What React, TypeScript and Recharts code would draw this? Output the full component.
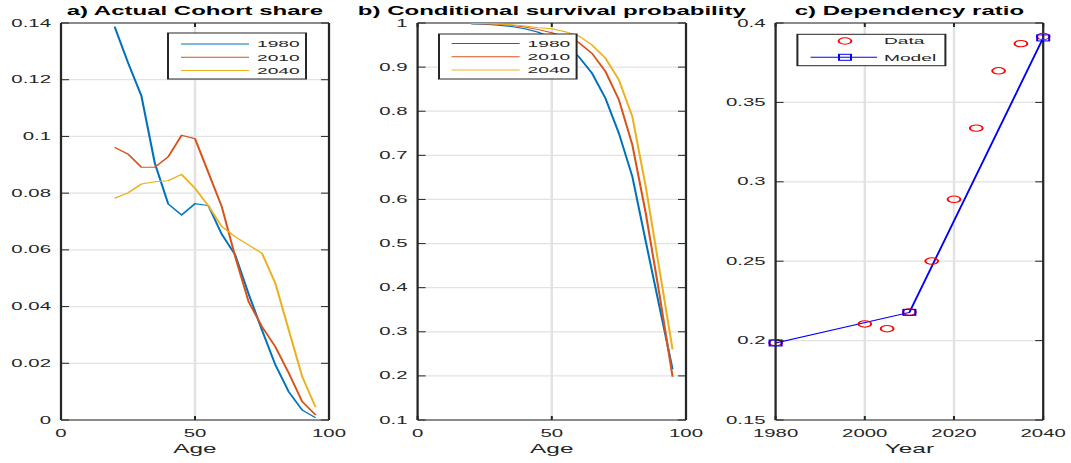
import React from 'react';
import { LineChart, Line, XAxis, YAxis, CartesianGrid, ReferenceLine } from 'recharts';

// ---- data ----
const AGES = [20, 25, 30, 35, 40, 45, 50, 55, 60, 65, 70, 75, 80, 85, 90, 95];

const SHARE_1980 = [0.1387, 0.126, 0.1143, 0.0906, 0.0762, 0.0723, 0.0763, 0.0756, 0.0655, 0.0582, 0.0445, 0.0317, 0.0194, 0.0099, 0.0035, 0.0008];
const SHARE_2010 = [0.0961, 0.0938, 0.0891, 0.0891, 0.0928, 0.1004, 0.0992, 0.0872, 0.0752, 0.0576, 0.0417, 0.0329, 0.0258, 0.0165, 0.0065, 0.0018];
const SHARE_2040 = [0.0782, 0.0801, 0.0832, 0.084, 0.0844, 0.0866, 0.0817, 0.0755, 0.0682, 0.0646, 0.0617, 0.0588, 0.0482, 0.0317, 0.0153, 0.0045];

const SURV_1980 = [0.998, 0.997, 0.995, 0.992, 0.987, 0.979, 0.967, 0.949, 0.924, 0.886, 0.829, 0.75, 0.652, 0.505, 0.36, 0.215];
const SURV_2010 = [0.999, 0.998, 0.997, 0.995, 0.991, 0.985, 0.978, 0.969, 0.956, 0.931, 0.89, 0.826, 0.724, 0.569, 0.389, 0.198];
const SURV_2040 = [0.999, 0.999, 0.998, 0.996, 0.993, 0.989, 0.987, 0.98, 0.971, 0.95, 0.92, 0.871, 0.788, 0.629, 0.445, 0.26];

const YEARS_DATA = [1980, 2000, 2005, 2010, 2015, 2020, 2025, 2030, 2035, 2040];
const RATIO_DATA = [0.1987, 0.2105, 0.2075, 0.218, 0.2501, 0.289, 0.3338, 0.3699, 0.387, 0.3915];
const YEARS_MODEL = [1980, 2010, 2040];
const RATIO_MODEL = [0.1985, 0.2178, 0.3906];

const SERIES = ['1980', '2010', '2040'];

const TICKS_AGE = [0, 50, 100];
const TICKS_SHARE = [0, 0.02, 0.04, 0.06, 0.08, 0.1, 0.12, 0.14];
const TICKS_SURV = [0.1, 0.2, 0.3, 0.4, 0.5, 0.6, 0.7, 0.8, 0.9, 1];
const TICKS_YEAR = [1980, 2000, 2020, 2040];
const TICKS_RATIO = [0.15, 0.2, 0.25, 0.3, 0.35, 0.4];

const shareRows = AGES.map((age, i) => ({ age, y1980: SHARE_1980[i], y2010: SHARE_2010[i], y2040: SHARE_2040[i] }));
const survRows = AGES.map((age, i) => ({ age, y1980: SURV_1980[i], y2010: SURV_2010[i], y2040: SURV_2040[i] }));
const dataRows = YEARS_DATA.map((year, i) => ({ year, ratio: RATIO_DATA[i] }));
const modelRows = YEARS_MODEL.map((year, i) => ({ year, ratio: RATIO_MODEL[i] }));

// ---- look ----
// the reference is stretched ~2x horizontally, so draw at half width and scale
const STRETCH = 2;
const W = 1071 / STRETCH;
const H = 463;
const PLOT_TOP = 23;
const PLOT_BOTTOM = 420;
const X_AXIS_H = 30;
const TICK_LEN = 4;

const AXIS = '#262626';
const GRID = '#e2e2e2';
const TEXT = '#262626';
const FONT = '"Liberation Sans", Arial, Helvetica, sans-serif';
const TICK_FS = 10.2;
const LINE_W = 1.05;

const COLORS = ['#0072BD', '#D95319', '#EDB120'];
const RED = '#ff0000';
const BLUE = '#0000ff';

const fmt = (v: number) => String(Number(v.toFixed(2)));

function XTick(props: any) {
  const { x, payload } = props;
  return (
    <g>
      <line x1={x} x2={x} y1={PLOT_BOTTOM} y2={PLOT_BOTTOM - TICK_LEN} stroke={AXIS} strokeWidth={1} />
      <line x1={x} x2={x} y1={PLOT_TOP} y2={PLOT_TOP + TICK_LEN} stroke={AXIS} strokeWidth={1} />
      <text x={x} y={PLOT_BOTTOM + 17} textAnchor="middle" fontSize={TICK_FS} fill={TEXT} fontFamily={FONT}>
        {fmt(payload.value)}
      </text>
    </g>
  );
}

function YTick(props: any) {
  const { y, payload, left, right } = props;
  return (
    <g>
      <line x1={left} x2={left + TICK_LEN} y1={y} y2={y} stroke={AXIS} strokeWidth={1} />
      <line x1={right - TICK_LEN} x2={right} y1={y} y2={y} stroke={AXIS} strokeWidth={1} />
      <text x={left - 5} y={y} dy="0.35em" textAnchor="end" fontSize={TICK_FS} fill={TEXT} fontFamily={FONT}>
        {fmt(payload.value)}
      </text>
    </g>
  );
}

interface Geom {
  left: number; // chart left in wrapper
  width: number;
  plotLeft: number; // in wrapper
  plotRight: number;
}

const GEOM_A: Geom = { left: 0, width: 175, plotLeft: 30.5, plotRight: 164.5 };
const GEOM_B: Geom = { left: 175, width: 180, plotLeft: 208.8, plotRight: 343 };
const GEOM_C: Geom = { left: 355, width: W - 355, plotLeft: 387.8, plotRight: 521.6 };

function frame(g: Geom, xKey: string, xDom: number[], xTicks: number[], yDom: number[], yTicks: number[]) {
  const l = g.plotLeft - g.left;
  const r = g.plotRight - g.left;
  return [
    <CartesianGrid key="grid" stroke={GRID} strokeWidth={1.2} />,
    <XAxis
      key="x"
      type="number"
      dataKey={xKey}
      domain={xDom}
      ticks={xTicks}
      interval={0}
      height={X_AXIS_H}
      axisLine={{ stroke: AXIS, strokeWidth: 1.1 }}
      tickLine={false}
      tick={(t: any) => <XTick {...t} />}
    />,
    <YAxis
      key="y"
      type="number"
      domain={yDom}
      ticks={yTicks}
      interval={0}
      width={l}
      axisLine={{ stroke: AXIS, strokeWidth: 1.1 }}
      tickLine={false}
      tick={(t: any) => <YTick {...t} left={l} right={r} />}
    />,
    <ReferenceLine key="top" y={yDom[1]} stroke={AXIS} strokeWidth={1.1} />,
    <ReferenceLine key="right" x={xDom[1]} stroke={AXIS} strokeWidth={1.1} />,
  ];
}

const margin = (g: Geom) => ({
  top: PLOT_TOP,
  bottom: H - PLOT_BOTTOM - X_AXIS_H,
  left: 0,
  right: g.left + g.width - g.plotRight,
});

function LegendBox(props: { x: number; y: number; w: number; h: number; children: React.ReactNode }) {
  const { x, y, w, h, children } = props;
  return (
    <g transform={`translate(${x},${y})`}>
      <rect x={0} y={0} width={w} height={h} fill="#fff" stroke={AXIS} strokeWidth={1} />
      {children}
    </g>
  );
}

function YearLegend(props: { x: number; y: number; w: number; h: number; rowY: number; lineX: number }) {
  const { x, y, w, h, rowY, lineX } = props;
  return (
    <LegendBox x={x} y={y} w={w} h={h}>
      {SERIES.map((s, i) => (
        <g key={s}>
          <line x1={lineX} x2={lineX + 34} y1={rowY + i * 13.2} y2={rowY + i * 13.2} stroke={COLORS[i]} strokeWidth={LINE_W} />
          <text x={lineX + 38} y={rowY + i * 13.2} dy="0.35em" fontSize={9.6} fill={TEXT} fontFamily={FONT}>
            {s}
          </text>
        </g>
      ))}
    </LegendBox>
  );
}

const center = (g: Geom) => (g.plotLeft + g.plotRight) / 2;

export default function App() {
  return (
    <div
      style={{
        position: 'absolute',
        left: 0,
        top: 0,
        width: W,
        height: H,
        background: '#fff',
        transform: `scaleX(${STRETCH})`,
        transformOrigin: '0 0',
        fontFamily: FONT,
      }}
    >
      <div style={{ position: 'absolute', left: GEOM_A.left, top: 0 }}>
        <LineChart width={GEOM_A.width} height={H} data={shareRows} margin={margin(GEOM_A)}>
          {frame(GEOM_A, 'age', [0, 100], TICKS_AGE, [0, 0.14], TICKS_SHARE)}
          {SERIES.map((s, i) => (
            <Line key={s} dataKey={`y${s}`} stroke={COLORS[i]} strokeWidth={LINE_W} dot={false} activeDot={false} isAnimationActive={false} />
          ))}
        </LineChart>
      </div>

      <div style={{ position: 'absolute', left: GEOM_B.left, top: 0 }}>
        <LineChart width={GEOM_B.width} height={H} data={survRows} margin={margin(GEOM_B)}>
          {frame(GEOM_B, 'age', [0, 100], TICKS_AGE, [0.1, 1], TICKS_SURV)}
          {SERIES.map((s, i) => (
            <Line key={s} dataKey={`y${s}`} stroke={COLORS[i]} strokeWidth={LINE_W} dot={false} activeDot={false} isAnimationActive={false} />
          ))}
        </LineChart>
      </div>

      <div style={{ position: 'absolute', left: GEOM_C.left, top: 0 }}>
        <LineChart width={GEOM_C.width} height={H} margin={margin(GEOM_C)}>
          {frame(GEOM_C, 'year', [1980, 2040], TICKS_YEAR, [0.15, 0.4], TICKS_RATIO)}
          <Line
            data={dataRows}
            dataKey="ratio"
            stroke="none"
            dot={{ r: 3.2, stroke: RED, strokeWidth: 1, fill: 'none', clipDot: false }}
            activeDot={false}
            isAnimationActive={false}
          />
          <Line
            data={modelRows}
            dataKey="ratio"
            stroke={BLUE}
            strokeWidth={1}
            dot={(p: any) => (
              <rect key={p.index} x={p.cx - 3} y={p.cy - 3} width={6} height={6} fill="none" stroke={BLUE} strokeWidth={1} />
            )}
            activeDot={false}
            isAnimationActive={false}
          />
        </LineChart>
      </div>

      <svg width={W} height={H} style={{ position: 'absolute', left: 0, top: 0, pointerEvents: 'none' }}>
        <g fontFamily={FONT} fill="#000">
          <text x={center(GEOM_A)} y={15} textAnchor="middle" fontSize={12} fontWeight="bold">a) Actual Cohort share</text>
          <text x={center(GEOM_B)} y={15} textAnchor="middle" fontSize={12} fontWeight="bold">b) Conditional survival probability</text>
          <text x={center(GEOM_C)} y={15} textAnchor="middle" fontSize={12} fontWeight="bold">c) Dependency ratio</text>
        </g>
        <g fontFamily={FONT} fill={TEXT} fontSize={12.2}>
          <text x={center(GEOM_A)} y={453} textAnchor="middle">Age</text>
          <text x={center(GEOM_B)} y={453} textAnchor="middle">Age</text>
          <text x={center(GEOM_C)} y={453} textAnchor="middle">Year</text>
        </g>

        <YearLegend x={84} y={33} w={69} h={46} rowY={11} lineX={6.5} />
        <YearLegend x={219.5} y={34} w={68.8} h={45} rowY={9.5} lineX={6.3} />

        <LegendBox x={398.7} y={34.3} w={74} h={31.4}>
          <circle cx={23.8} cy={6.7} r={3.2} fill="none" stroke={RED} strokeWidth={1} />
          <text x={43.3} y={6.7} dy="0.35em" fontSize={9.6} fill={TEXT} fontFamily={FONT}>Data</text>
          <line x1={6.6} x2={39.8} y1={23} y2={23} stroke={BLUE} strokeWidth={1} />
          <rect x={20.8} y={20} width={6} height={6} fill="none" stroke={BLUE} strokeWidth={1} />
          <text x={43.3} y={23} dy="0.35em" fontSize={9.6} fill={TEXT} fontFamily={FONT}>Model</text>
        </LegendBox>
      </svg>
    </div>
  );
}
